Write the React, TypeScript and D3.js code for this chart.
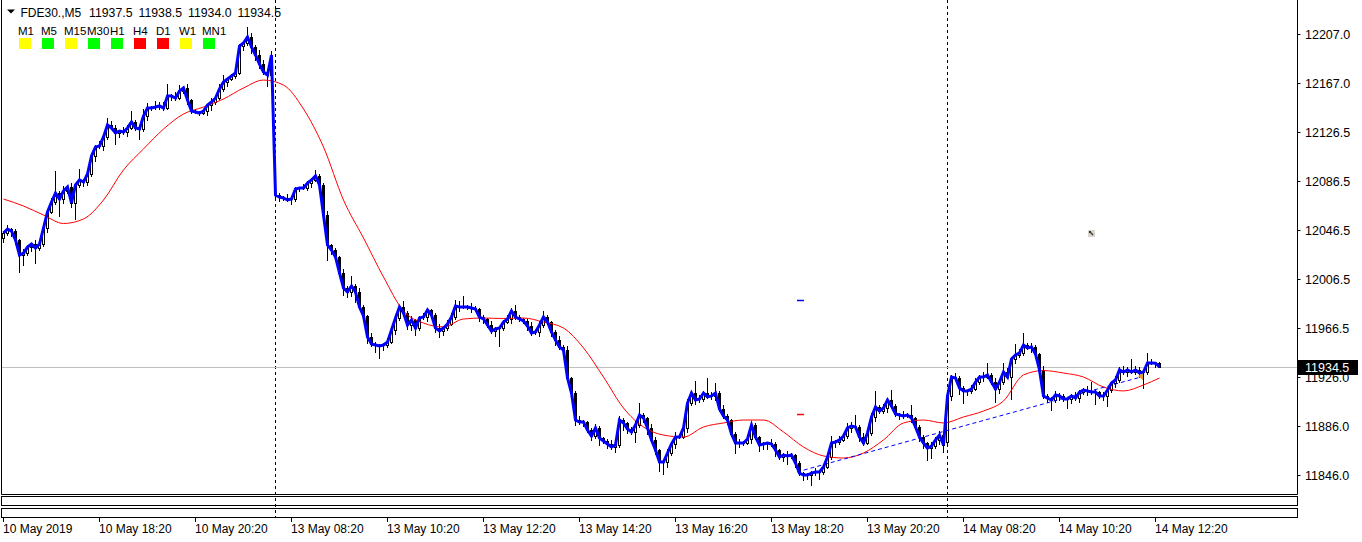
import React, { useEffect, useRef } from 'react';
import * as d3 from 'd3';

// ---- data (FDE30 M5) ----
const symbolName = 'FDE30.,M5';
const lastQuote = ['11937.5', '11938.5', '11934.0', '11934.5'];

const timeframes = ['M1', 'M5', 'M15', 'M30', 'H1', 'H4', 'D1', 'W1', 'MN1'];
const timeframeColors = ['#ffff00', '#00ff00', '#ffff00', '#00ff00', '#00ff00', '#ff0000', '#ff0000', '#ffff00', '#00ff00'];

const firstOpen = 12040.0;
// session opens that gap away from the previous close
const gapBars = [68, 236];
const gapOpens = [12076.0, 11873.0];

const closes = [
  12044.1, 12047.4, 12045.7, 12038.4, 12026.1, 12027.7, 12032.6, 12035.1, 12031.8, 12035.1,
  12048.2, 12061.3, 12069.5, 12076.8, 12071.9, 12078.5, 12081.8, 12068.7, 12083.4, 12087.5,
  12085.8, 12092.4, 12107.1, 12114.5, 12115.3, 12122.7, 12132.5, 12130.1, 12126.0, 12127.6,
  12126.8, 12130.1, 12135.0, 12130.1, 12129.2, 12139.9, 12146.4, 12146.4, 12147.2, 12148.1,
  12146.4, 12156.2, 12156.2, 12154.6, 12160.3, 12162.8, 12153.0, 12144.0, 12143.2, 12142.3,
  12144.0, 12148.9, 12151.3, 12154.6, 12162.0, 12167.7, 12170.2, 12172.6, 12175.1, 12197.2,
  12199.6, 12204.5, 12196.4, 12189.8, 12182.4, 12175.9, 12173.4, 12189.8, 12075.2, 12073.6,
  12072.8, 12071.1, 12071.9, 12080.1, 12080.9, 12080.9, 12085.0, 12087.5, 12090.8, 12083.4,
  12058.8, 12034.3, 12030.2, 12024.5, 12011.4, 11999.1, 11995.8, 12000.7, 11995.8, 11983.5,
  11976.2, 11959.0, 11953.2, 11952.4, 11951.6, 11952.4, 11954.9, 11964.7, 11974.5, 11983.5,
  11978.6, 11968.8, 11972.9, 11966.3, 11974.5, 11975.3, 11981.1, 11977.0, 11966.3, 11963.9,
  11966.3, 11969.6, 11975.3, 11984.3, 11983.5, 11983.5, 11983.5, 11982.7, 11981.9, 11975.3,
  11973.7, 11968.8, 11963.9, 11965.5, 11966.3, 11971.2, 11973.7, 11980.3, 11975.3, 11973.7,
  11972.1, 11968.0, 11962.2, 11963.1, 11968.8, 11975.3, 11971.2, 11963.1, 11956.5, 11950.8,
  11948.3, 11925.4, 11913.1, 11891.0, 11889.4, 11889.4, 11882.8, 11877.9, 11884.5, 11876.3,
  11873.8, 11871.4, 11868.9, 11870.6, 11891.0, 11888.6, 11883.7, 11881.2, 11886.9, 11895.1,
  11892.7, 11884.5, 11874.7, 11866.5, 11856.6, 11856.6, 11864.0, 11871.4, 11877.1, 11877.1,
  11884.5, 11904.9, 11913.1, 11907.4, 11908.2, 11913.1, 11909.9, 11910.7, 11913.1, 11900.0,
  11894.3, 11891.0, 11879.6, 11872.2, 11872.2, 11872.2, 11875.5, 11886.9, 11877.1, 11870.6,
  11871.4, 11872.2, 11871.4, 11866.5, 11860.7, 11862.4, 11861.6, 11862.4, 11855.8, 11847.6,
  11846.0, 11846.0, 11847.6, 11848.5, 11848.5, 11852.5, 11860.7, 11872.2, 11873.0, 11874.7,
  11877.9, 11884.5, 11886.1, 11885.3, 11877.1, 11872.2, 11880.4, 11893.5, 11901.7, 11898.4,
  11900.8, 11907.4, 11902.5, 11895.9, 11895.1, 11894.3, 11895.1, 11892.7, 11885.3, 11877.1,
  11872.2, 11868.1, 11869.7, 11874.7, 11878.7, 11870.6, 11910.7, 11926.2, 11925.4, 11917.2,
  11914.8, 11914.8, 11916.4, 11922.1, 11926.2, 11926.2, 11927.9, 11922.1, 11916.4, 11922.1,
  11930.3, 11926.2, 11941.0, 11944.2, 11945.9, 11952.4, 11950.0, 11950.8, 11945.1, 11932.0,
  11910.7, 11909.0, 11907.4, 11911.5, 11910.7, 11908.2, 11908.2, 11910.7, 11909.0, 11913.9,
  11915.6, 11914.8, 11913.9, 11913.9, 11910.7, 11910.7, 11915.6, 11921.3, 11923.8, 11932.0,
  11930.3, 11932.0, 11930.3, 11932.0, 11929.5, 11930.3, 11937.7, 11937.7, 11937.5, 11934.5,
];

// wick lengths in points beyond the body
const wickUp = [
  2, 3, 1, 2, 1, 3, 2, 1, 3, 2,
  2, 1, 3, 18, 2, 4, 1, 3, 2, 9,
  1, 3, 2, 2, 4, 1, 6, 3, 2, 1,
  3, 2, 9, 2, 1, 6, 4, 2, 5, 3,
  3, 10, 2, 3, 5, 2, 3, 1, 2, 1,
  2, 1, 3, 2, 4, 6, 1, 2, 3, 2,
  2, 8, 3, 2, 4, 3, 2, 3, 1, 2,
  1, 3, 2, 2, 1, 3, 2, 2, 5, 2,
  2, 3, 1, 2, 1, 3, 2, 8, 2, 3,
  2, 1, 3, 2, 1, 2, 3, 2, 1, 2,
  5, 2, 3, 1, 2, 3, 2, 1, 2, 3,
  2, 3, 3, 5, 4, 9, 2, 3, 2, 1,
  2, 1, 3, 2, 1, 2, 3, 2, 5, 2,
  1, 2, 3, 2, 3, 5, 2, 1, 2, 3,
  2, 3, 1, 2, 3, 2, 1, 2, 3, 2,
  1, 2, 3, 2, 3, 2, 1, 2, 3, 10,
  2, 1, 3, 2, 1, 2, 3, 2, 4, 2,
  2, 3, 2, 10, 3, 2, 12, 3, 8, 2,
  3, 2, 1, 2, 3, 2, 1, 3, 2, 1,
  2, 1, 3, 2, 1, 2, 3, 2, 1, 2,
  1, 2, 2, 3, 2, 2, 3, 6, 2, 3,
  2, 4, 3, 9, 2, 3, 2, 3, 13, 2,
  3, 2, 8, 2, 1, 3, 2, 8, 1, 2,
  2, 1, 3, 2, 3, 2, 1, 2, 3, 2,
  2, 1, 3, 3, 2, 4, 10, 2, 3, 2,
  7, 3, 2, 9, 3, 10, 2, 3, 2, 1,
  3, 2, 1, 3, 2, 2, 1, 2, 3, 2,
  2, 3, 7, 2, 1, 3, 2, 2, 3, 2,
  3, 2, 9, 3, 2, 2, 8, 3, 1, 1,
];

const wickDown = [
  3, 2, 4, 3, 14, 8, 2, 3, 12, 2,
  2, 3, 1, 2, 14, 3, 2, 3, 13, 2,
  3, 2, 2, 4, 1, 3, 2, 1, 9, 3,
  2, 3, 1, 2, 8, 2, 3, 2, 1, 2,
  2, 1, 3, 2, 1, 2, 3, 2, 1, 2,
  1, 3, 4, 2, 1, 2, 3, 1, 2, 1,
  3, 2, 5, 4, 3, 2, 9, 3, 2, 3,
  2, 1, 3, 2, 2, 1, 2, 3, 1, 2,
  3, 12, 3, 2, 2, 6, 4, 3, 8, 2,
  3, 5, 2, 6, 10, 3, 2, 1, 3, 2,
  2, 3, 4, 6, 2, 1, 3, 2, 3, 5,
  3, 2, 1, 2, 3, 1, 2, 3, 2, 3,
  3, 2, 2, 4, 14, 2, 1, 3, 2, 2,
  2, 3, 2, 1, 3, 2, 2, 3, 4, 2,
  3, 2, 5, 4, 2, 3, 2, 3, 2, 6,
  2, 3, 2, 4, 2, 6, 3, 2, 8, 2,
  3, 5, 2, 3, 7, 10, 4, 2, 3, 1,
  1, 3, 2, 3, 2, 2, 1, 2, 3, 2,
  2, 3, 2, 8, 3, 2, 1, 3, 2, 5,
  3, 4, 2, 5, 2, 3, 7, 2, 3, 2,
  4, 3, 8, 2, 6, 2, 1, 2, 3, 2,
  1, 2, 3, 2, 3, 2, 1, 2, 3, 2,
  2, 3, 1, 2, 3, 2, 1, 3, 2, 3,
  4, 10, 8, 2, 3, 6, 2, 3, 2, 5,
  10, 3, 2, 1, 2, 3, 1, 2, 11, 3,
  2, 1, 18, 3, 2, 2, 1, 3, 2, 2,
  2, 3, 8, 2, 3, 2, 7, 3, 2, 3,
  2, 3, 2, 10, 2, 3, 8, 2, 3, 2,
  2, 3, 1, 2, 3, 12, 2, 1, 3, 0.5,
];

// red moving average, sampled every 5 bars
const maBars = [
  0, 5, 10, 15, 20, 25, 30, 35, 40, 45, 50, 55, 60, 65, 70, 75, 80, 85, 90, 95,
  100, 105, 110, 115, 120, 125, 130, 135, 140, 145, 150, 155, 160, 165, 170, 175, 180, 185, 190, 195,
  200, 205, 210, 215, 220, 225, 230, 235, 240, 245, 250, 255, 260, 265, 270, 275, 280, 285, 289,
];
const maValues = [
  12071.9, 12066.2, 12058.8, 12051.9, 12055.6, 12071.1, 12095.7, 12112.9, 12129.2, 12141.5,
  12147.2, 12153.8, 12162.8, 12169.3, 12165.2, 12145.6, 12114.5, 12071.1, 12040.0, 12008.1,
  11980.3, 11970.4, 11967.2, 11973.7, 11974.5, 11974.1, 11974.5, 11971.2, 11966.3, 11950.0,
  11926.2, 11900.8, 11885.3, 11878.7, 11877.1, 11885.3, 11888.6, 11891.0, 11891.0, 11881.2,
  11868.9, 11861.6, 11859.9, 11864.0, 11874.7, 11888.6, 11891.0, 11888.6, 11893.5, 11898.4,
  11906.6, 11927.9, 11931.5, 11929.5, 11926.2, 11918.0, 11914.8, 11919.7, 11925.4,
];

const trendBars = [198.5, 284.25];
const trendPrices = [11848.5, 11926.0];

const markerBar = 199;
const markerPrices = [11989.3, 11895.9];
const markerColors = ['#0000ff', '#ff0000'];

const iconBar = 272;
const iconPrice = 12043.7;

const priceTicks = [12207.0, 12167.0, 12126.5, 12086.5, 12046.5, 12006.5, 11966.5, 11926.0, 11886.0, 11846.0];
const timeTickBars = [0, 24, 48, 72, 96, 120, 144, 168, 192, 216, 240, 264, 288];
const timeTickLabels = [
  '10 May 2019', '10 May 18:20', '10 May 20:20', '13 May 08:20', '13 May 10:20', '13 May 12:20',
  '13 May 14:20', '13 May 16:20', '13 May 18:20', '13 May 20:20', '14 May 08:20', '14 May 10:20', '14 May 12:20',
];
const separatorBars = [68, 236];
const bidPrice = 11934.5;

const W = 1362;
const H = 542;
const FONT = "Tahoma, 'Liberation Sans', Arial, sans-serif";

export default function App() {
  const svgRef = useRef<SVGSVGElement>(null);

  useEffect(() => {
    if (!svgRef.current) return;
    const svg = d3.select(svgRef.current);
    svg.selectAll('*').remove();

    const frameRight = 1297.5;
    const frameBottom = 494.5;

    const x = d3.scaleLinear().domain([0, closes.length - 1]).range([3, 3 + 4 * (closes.length - 1)]);
    const y = d3.scaleLinear().domain([11846, 12207]).range([475, 34]);
    const cx = (i: number) => Math.round(x(i)) + 0.5;

    svg.append('rect').attr('width', W).attr('height', H).attr('fill', '#ffffff');

    // period separators (through the sub windows)
    separatorBars.forEach(b => {
      svg.append('line')
        .attr('x1', cx(b)).attr('x2', cx(b))
        .attr('y1', 0).attr('y2', 518)
        .attr('stroke', '#000').attr('stroke-dasharray', '3,3');
    });

    // frames
    svg.append('path')
      .attr('d', `M1.5,0 V${frameBottom} H${frameRight} V0`)
      .attr('fill', 'none').attr('stroke', '#000');
    svg.append('rect').attr('x', 1.5).attr('y', 496.5).attr('width', frameRight - 1.5).attr('height', 9)
      .attr('fill', 'none').attr('stroke', '#000');
    svg.append('rect').attr('x', 1.5).attr('y', 508.5).attr('width', frameRight - 1.5).attr('height', 9)
      .attr('fill', 'none').attr('stroke', '#000');

    const defs = svg.append('defs');
    defs.append('clipPath').attr('id', 'plot')
      .append('rect').attr('x', 2).attr('y', 0).attr('width', frameRight - 2.5).attr('height', frameBottom - 0.5);

    const g = svg.append('g').attr('clip-path', 'url(#plot)');

    // bid line
    const yb = Math.round(y(bidPrice)) + 0.5;
    g.append('line').attr('x1', 2).attr('x2', frameRight).attr('y1', yb).attr('y2', yb)
      .attr('stroke', '#c0c0c0');

    // candles
    const candles = g.append('g');
    closes.forEach((c, i) => {
      const gi = gapBars.indexOf(i);
      const o = gi >= 0 ? gapOpens[gi] : (i === 0 ? firstOpen : closes[i - 1]);
      const hi = Math.max(o, c) + wickUp[i];
      const lo = Math.min(o, c) - wickDown[i];
      const px = cx(i);
      candles.append('line')
        .attr('x1', px).attr('x2', px)
        .attr('y1', Math.round(y(hi))).attr('y2', Math.round(y(lo)) + 1)
        .attr('stroke', '#000');
      const top = Math.round(y(Math.max(o, c)));
      const bot = Math.round(y(Math.min(o, c)));
      if (c < o) {
        candles.append('rect')
          .attr('x', px - 1.5).attr('y', top).attr('width', 3).attr('height', Math.max(1, bot - top + 1))
          .attr('fill', '#000');
      } else if (bot - top >= 2) {
        candles.append('rect')
          .attr('x', px - 1).attr('y', top + 0.5).attr('width', 2).attr('height', bot - top)
          .attr('fill', '#fff').attr('stroke', '#000');
      } else {
        candles.append('line')
          .attr('x1', px - 1.5).attr('x2', px + 1.5).attr('y1', top + 0.5).attr('y2', top + 0.5)
          .attr('stroke', '#000');
      }
    });

    // red moving average
    const maLine = d3.line<number>()
      .x((_, i) => cx(maBars[i]))
      .y(d => y(d))
      .curve(d3.curveMonotoneX);
    g.append('path').datum(maValues).attr('d', maLine)
      .attr('fill', 'none').attr('stroke', '#ff0000').attr('stroke-width', 1);

    // dashed trend line
    g.append('line')
      .attr('x1', x(trendBars[0])).attr('y1', y(trendPrices[0]))
      .attr('x2', x(trendBars[1])).attr('y2', y(trendPrices[1]))
      .attr('stroke', '#0000ff').attr('stroke-dasharray', '4,3');
    const tx = x(trendBars[1]);
    const ty = y(trendPrices[1]);
    g.append('path')
      .attr('d', `M${tx - 2},${ty - 1} L${tx + 3},${ty - 5} L${tx + 3},${ty + 3} Z`)
      .attr('fill', '#e0a030');

    // blue close line
    const closeLine = d3.line<number>()
      .x((_, i) => cx(i))
      .y(d => y(d));
    g.append('path').datum(closes).attr('d', closeLine)
      .attr('fill', 'none').attr('stroke', '#0000ff').attr('stroke-width', 3)
      .attr('stroke-linejoin', 'miter');

    // little level markers
    markerPrices.forEach((p, i) => {
      g.append('line')
        .attr('x1', x(markerBar) - 2).attr('x2', x(markerBar) + 5)
        .attr('y1', Math.round(y(p)) + 0.5).attr('y2', Math.round(y(p)) + 0.5)
        .attr('stroke', markerColors[i]).attr('stroke-width', 1.5);
    });

    // small object icon
    const ix = Math.round(x(iconBar));
    const iy = Math.round(y(iconPrice));
    g.append('rect').attr('x', ix - 3).attr('y', iy - 3).attr('width', 7).attr('height', 7).attr('fill', '#d8d4cc');
    g.append('path').attr('d', `M${ix - 1},${iy - 1} L${ix + 2},${iy + 2}`).attr('stroke', '#333').attr('stroke-width', 1.2);
    g.append('rect').attr('x', ix - 2).attr('y', iy - 2).attr('width', 2).attr('height', 2).attr('fill', '#333');

    // header
    svg.append('path').attr('d', 'M7,9.5 L15,9.5 L11,13.5 Z').attr('fill', '#000');
    svg.append('text').attr('x', 20.5).attr('y', 17)
      .style('font-family', FONT).style('font-size', '12px').attr('fill', '#000')
      .text(symbolName);
    const quoteX = [89, 138.5, 188, 237.5];
    lastQuote.forEach((q, i) => {
      svg.append('text').attr('x', quoteX[i]).attr('y', 17)
        .style('font-family', FONT).style('font-size', '12.3px').attr('fill', '#000')
        .text(q);
    });

    // timeframe trend boxes
    timeframes.forEach((tf, i) => {
      const bx = 19 + i * 23;
      svg.append('text').attr('x', bx - 1).attr('y', 35)
        .style('font-family', FONT).style('font-size', '11.5px').attr('fill', '#000')
        .text(tf);
      svg.append('rect').attr('x', bx).attr('y', 38).attr('width', 12).attr('height', 11)
        .attr('fill', timeframeColors[i]);
    });

    // price axis
    priceTicks.forEach(p => {
      const py = Math.round(y(p)) + 0.5;
      svg.append('line').attr('x1', frameRight).attr('x2', frameRight + 3).attr('y1', py).attr('y2', py)
        .attr('stroke', '#000');
      svg.append('text').attr('x', 1305).attr('y', py + 4)
        .style('font-family', FONT).style('font-size', '12.5px').attr('fill', '#000')
        .text(p.toFixed(1));
    });

    // current price label
    svg.append('rect').attr('x', 1298).attr('y', Math.round(y(bidPrice)) - 7).attr('width', 60).attr('height', 15)
      .attr('fill', '#000');
    svg.append('text').attr('x', 1305).attr('y', Math.round(y(bidPrice)) + 5)
      .style('font-family', FONT).style('font-size', '12.5px').attr('fill', '#fff')
      .text(bidPrice.toFixed(1));

    // time axis
    timeTickBars.forEach((b, i) => {
      const tx2 = cx(b);
      svg.append('line').attr('x1', tx2).attr('x2', tx2).attr('y1', 518).attr('y2', 522).attr('stroke', '#000');
      svg.append('text').attr('x', tx2 - 0.5).attr('y', 533)
        .style('font-family', FONT).style('font-size', '12px').attr('fill', '#000')
        .text(timeTickLabels[i]);
    });
  }, []);

  return (
    <svg
      ref={svgRef}
      width={W}
      height={H}
      style={{ position: 'fixed', left: 0, top: 0, display: 'block' }}
    />
  );
}
